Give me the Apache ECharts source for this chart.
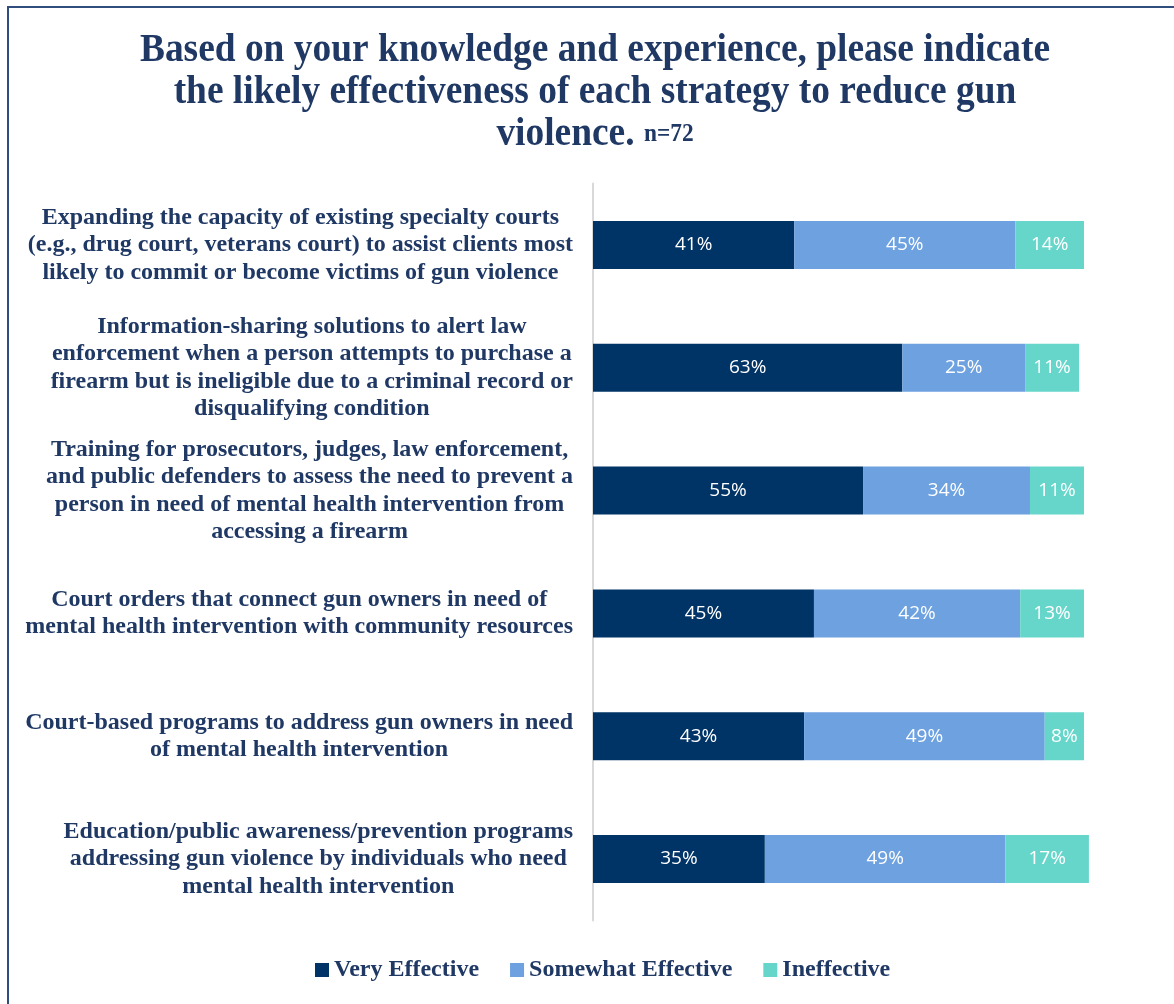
<!DOCTYPE html>
<html>
<head>
<meta charset="utf-8">
<script src="https://cdn.jsdelivr.net/npm/echarts@6/dist/echarts.min.js"></script>
<style>
  html, body { margin: 0; padding: 0; background: #fff; }
  #chart { width: 1174px; height: 1004px; }
</style>
</head>
<body>
<div id="chart"></div>
<script>
// Strategies, listed top to bottom
const strategies = [
  'Expanding the capacity of existing specialty courts\n(e.g., drug court, veterans court) to assist clients most\nlikely to commit or become victims of gun violence',
  'Information-sharing solutions to alert law\nenforcement when a person attempts to purchase a\nfirearm but is ineligible due to a criminal record or\ndisqualifying condition',
  'Training for prosecutors, judges, law enforcement,\nand public defenders to assess the need to prevent a\nperson in need of mental health intervention from\naccessing a firearm',
  'Court orders that connect gun owners in need of\nmental health intervention with community resources',
  'Court-based programs to address gun owners in need\nof mental health intervention',
  'Education/public awareness/prevention programs\naddressing gun violence by individuals who need\nmental health intervention'
];

// Percent of respondents (n=72)
const veryEffective     = [41, 63, 55, 45, 43, 35];
const somewhatEffective = [45, 25, 34, 42, 49, 49];
const ineffective       = [14, 11, 11, 13, 8, 17];

const seriesNames = ['Very Effective', 'Somewhat Effective', 'Ineffective'];
const seriesColors = ['#003366', '#6DA1E0', '#66D6CB'];

const titleLines = 'Based on your knowledge and experience, please indicate\nthe likely effectiveness of each strategy to reduce gun\nviolence. ';
const sampleNote = 'n=72';

const navy = '#1F3864';
const serif = '"Liberation Serif", "Times New Roman", serif';

const chart = echarts.init(document.getElementById('chart'));

function barSeries(name, data, color) {
  return {
    name: name,
    type: 'bar',
    stack: 'total',
    data: data,
    barWidth: 48,
    itemStyle: { color: color },
    label: {
      show: true,
      position: 'inside',
      formatter: '{c}%',
      color: '#ffffff',
      fontFamily: '"Open Sans", "Liberation Sans", sans-serif',
      fontSize: 19
    },
    emphasis: { disabled: true }
  };
}

const labelFont = {
  fontFamily: serif,
  fontWeight: 'bold',
  fontSize: 24,
  lineHeight: 27.5,
  color: navy
};

chart.setOption({
  animation: false,
  backgroundColor: '#ffffff',
  legend: {
    bottom: 17,
    left: 310,
    itemWidth: 14,
    itemHeight: 14,
    itemGap: 31,
    icon: 'rect',
    textStyle: { fontFamily: serif, fontWeight: 'bold', fontSize: 24, color: navy },
    data: seriesNames
  },
  grid: {
    left: 593,
    top: 183.6,
    width: 540.1,
    height: 736.8
  },
  xAxis: {
    type: 'value',
    min: 0,
    max: 110,
    show: false
  },
  yAxis: {
    type: 'category',
    inverse: true,
    data: strategies,
    axisLine: { show: true, lineStyle: { color: '#D9D9D9', width: 2 } },
    axisTick: { show: false },
    axisLabel: {
      margin: 20,
      align: 'right',
      // each label block sits against the axis; its lines are centred within it
      formatter: function (v) {
        return v.split('\n').map(function (line) { return '{c|' + line + '}'; }).join('\n');
      },
      rich: { c: Object.assign({ align: 'center' }, labelFont) }
    }
  },
  series: [
    barSeries(seriesNames[0], veryEffective, seriesColors[0]),
    barSeries(seriesNames[1], somewhatEffective, seriesColors[1]),
    barSeries(seriesNames[2], ineffective, seriesColors[2])
  ],
  graphic: [
    {
      // condensed bold heading
      type: 'text',
      x: 595,
      y: 30,
      scaleX: 0.935,
      silent: true,
      style: {
        text: titleLines + '{n|' + sampleNote + '}',
        textAlign: 'center',
        textVerticalAlign: 'top',
        fontFamily: serif,
        fontWeight: 'bold',
        fontSize: 40,
        lineHeight: 42,
        fill: navy,
        rich: {
          n: { fontFamily: serif, fontWeight: 'bold', fontSize: 25, fill: navy, lineHeight: 42 }
        }
      }
    },
    {
      type: 'rect',
      shape: { x: 8, y: 7, width: 1180, height: 1010 },
      style: { fill: 'none', stroke: '#2F4E7E', lineWidth: 2 },
      silent: true
    }
  ]
});
</script>
</body>
</html>
